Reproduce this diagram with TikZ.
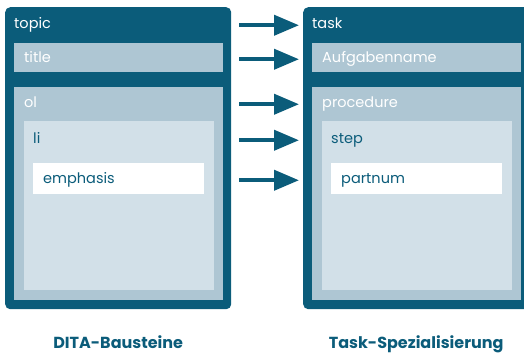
\documentclass[tikz,border=0pt]{standalone}
\usepackage{fontspec}
\setmainfont{Poppins}
\usetikzlibrary{calc, positioning, arrows.meta}
\definecolor{ditadark}{HTML}{0B5C7A}
\definecolor{ditamid}{HTML}{AEC6D3}
\definecolor{ditalight}{HTML}{D2E0E8}

\begin{document}
\begin{tikzpicture}[
        x=1pt, y=-1pt,
        outerbox/.style={rectangle, fill=ditadark, rounded corners=5pt, minimum width=226pt, minimum height=302pt, anchor=north west, inner sep=0pt},
        midbox/.style={rectangle, fill=ditamid, minimum width=209pt, anchor=north west, inner sep=0pt},
        lightbox/.style={rectangle, fill=ditalight, minimum width=190pt, minimum height=169pt, anchor=north west, inner sep=0pt},
        whitebox/.style={rectangle, fill=white, minimum width=171pt, minimum height=31pt, anchor=north west, inner sep=0pt},
        tagw/.style={anchor=base west, inner sep=0pt, text=white, font=\fontsize{14.5}{16}\selectfont},
        tagd/.style={anchor=base west, inner sep=0pt, text=ditadark, font=\fontsize{14.5}{16}\selectfont},
        caption/.style={inner sep=0pt, text=ditadark, font=\fontsize{16}{18}\selectfont\bfseries},
        arrow/.style={-{Triangle[length=25pt, width=20pt]}, line width=4pt, ditadark, shorten <=8pt, shorten >=4pt}
    ]
    \useasboundingbox (0,0) rectangle (524,356);

    % DITA-Bausteine
    \node[outerbox] (topic) at (5,7) {};
    \node[midbox, minimum height=29pt] (title) at ($(topic.north west)+(9,36)$) {};
    \node[midbox, minimum height=213pt] (ol) at ($(topic.north west)+(9,80)$) {};
    \node[lightbox] (li) at ($(ol.north west)+(10,34)$) {};
    \node[whitebox] (emph) at ($(li.north west)+(9,42)$) {};
    \node[tagw] (ltopic) at ($(topic.north west)+(9,21)$) {topic};
    \node[tagw] (ltitle) at ($(title.north west)+(10,19)$) {title};
    \node[tagw] (lol) at ($(ol.north west)+(10,20)$) {ol};
    \node[tagd] (lli) at ($(li.north west)+(9,22)$) {li};
    \node[tagd] (lemph) at ($(emph.north west)+(10,20)$) {emphasis};
    \node[caption, below=26pt of topic] {DITA-Bausteine};

    % Task-Spezialisierung
    \node[outerbox] (task) at (303,7) {};
    \node[midbox, minimum height=29pt] (aufg) at ($(task.north west)+(9,36)$) {};
    \node[midbox, minimum height=213pt] (proc) at ($(task.north west)+(9,80)$) {};
    \node[lightbox] (step) at ($(proc.north west)+(10,34)$) {};
    \node[whitebox] (partnum) at ($(step.north west)+(9,42)$) {};
    \node[tagw] (ltask) at ($(task.north west)+(9,21)$) {task};
    \node[tagw] (laufg) at ($(aufg.north west)+(10,19)$) {Aufgabenname};
    \node[tagw] (lproc) at ($(proc.north west)+(10,20)$) {procedure};
    \node[tagd] (lstep) at ($(step.north west)+(9,22)$) {step};
    \node[tagd] (lpart) at ($(partnum.north west)+(10,20)$) {partnum};
    \node[caption, below=26pt of task] {Task-Spezialisierung};

    % Pfeile
    \draw[arrow] (topic.east |- ltopic.mid) -- (task.west |- ltopic.mid);
    \draw[arrow] (topic.east |- ltitle.mid) -- (task.west |- ltitle.mid);
    \draw[arrow] (topic.east |- lol.mid) -- (task.west |- lol.mid);
    \draw[arrow] (topic.east |- lli.mid) -- (task.west |- lli.mid);
    \draw[arrow] (topic.east |- lemph.mid) -- (task.west |- lemph.mid);
\end{tikzpicture}
\end{document}
